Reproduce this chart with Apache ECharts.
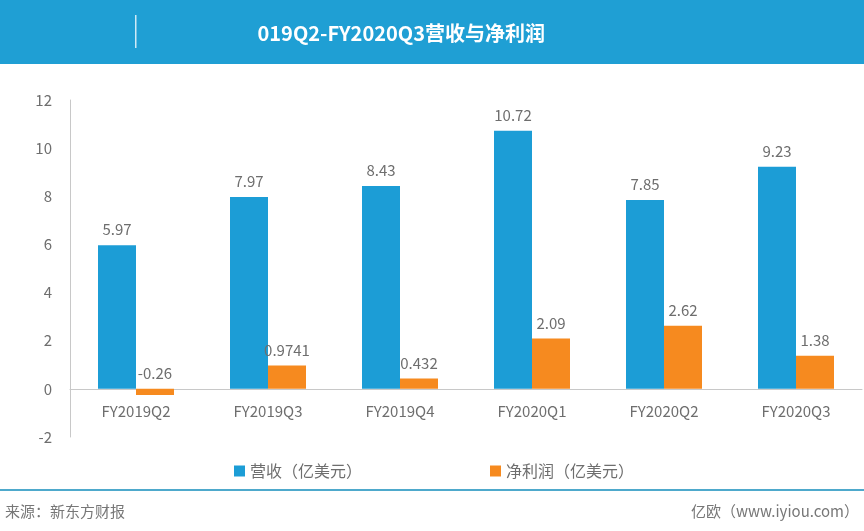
<!DOCTYPE html>
<html>
<head>
<meta charset="utf-8">
<script src="https://cdn.jsdelivr.net/npm/echarts@6/dist/echarts.min.js"></script>
<style>
html, body { margin: 0; padding: 0; background: #fff; }
#main { width: 864px; height: 531px; }
</style>
</head>
<body>
<div id="main"></div>
<script>
var categories = ['FY2019Q2', 'FY2019Q3', 'FY2019Q4', 'FY2020Q1', 'FY2020Q2', 'FY2020Q3'];
var revenue = [5.97, 7.97, 8.43, 10.72, 7.85, 9.23];
var netProfit = [-0.26, 0.9741, 0.432, 2.09, 2.62, 1.38];
var seriesNames = ['营收（亿美元）', '净利润（亿美元）'];
var titleText = 'FY2019Q2-FY2020Q3营收与净利润';

var font = '"Noto Sans CJK SC", "Noto Sans", sans-serif';
var headerBlue = '#1f9fd4';
var textGray = '#6e6e6e';

var chart = echarts.init(document.getElementById('main'));
chart.setOption({
    animation: false,
    textStyle: { fontFamily: font },
    graphic: [
        { type: 'rect', shape: { x: 0, y: 0, width: 864, height: 64 }, style: { fill: headerBlue }, z: 1 },
        // title text, its left part hidden under the band like in the source image
        { type: 'text', x: 545, y: 33, style: { text: titleText, fill: '#fff', font: 'bold 20px ' + font, align: 'right', verticalAlign: 'middle' }, z: 2 },
        { type: 'rect', shape: { x: 0, y: 0, width: 258, height: 64 }, style: { fill: headerBlue }, z: 3 },
        { type: 'rect', shape: { x: 135, y: 15, width: 1.5, height: 33 }, style: { fill: '#cfeaf6' }, z: 4 },
        { type: 'rect', shape: { x: 0, y: 489, width: 864, height: 2 }, style: { fill: '#4ea9cc' }, z: 2 },
        { type: 'text', x: 5, y: 511, style: { text: '来源：新东方财报', fill: '#777', font: '15px ' + font, verticalAlign: 'middle' }, z: 2 },
        { type: 'text', x: 859, y: 511, style: { text: '亿欧（www.iyiou.com）', fill: '#777', font: '15px ' + font, align: 'right', verticalAlign: 'middle' }, z: 2 }
    ],
    legend: {
        data: seriesNames,
        top: 458,
        left: 229,
        itemWidth: 11,
        itemHeight: 11,
        itemGap: 128,
        icon: 'rect',
        textStyle: { color: textGray, fontSize: 16, fontFamily: font }
    },
    grid: { left: 70, right: 2, top: 100, bottom: 94 },
    xAxis: {
        type: 'category',
        data: categories,
        offset: -48.14,
        axisLine: { onZero: false, lineStyle: { color: '#c8c8c8' } },
        axisTick: { show: false },
        axisLabel: { color: textGray, fontSize: 15, margin: 15 }
    },
    yAxis: {
        type: 'value',
        min: -2,
        max: 12,
        interval: 2,
        splitLine: { show: false },
        axisLine: { show: true, lineStyle: { color: '#c8c8c8' } },
        axisTick: { show: false },
        axisLabel: { color: textGray, fontSize: 15, margin: 18 }
    },
    series: [
        {
            name: seriesNames[0],
            type: 'bar',
            data: revenue,
            barWidth: 38,
            barGap: '0%',
            itemStyle: { color: '#1c9dd6' },
            label: { show: true, position: 'top', color: textGray, fontSize: 15, distance: 8 }
        },
        {
            name: seriesNames[1],
            type: 'bar',
            data: netProfit,
            barWidth: 38,
            itemStyle: { color: '#f68a1f' },
            label: { show: true, position: 'top', color: textGray, fontSize: 15, distance: 8 }
        }
    ]
});
</script>
</body>
</html>
